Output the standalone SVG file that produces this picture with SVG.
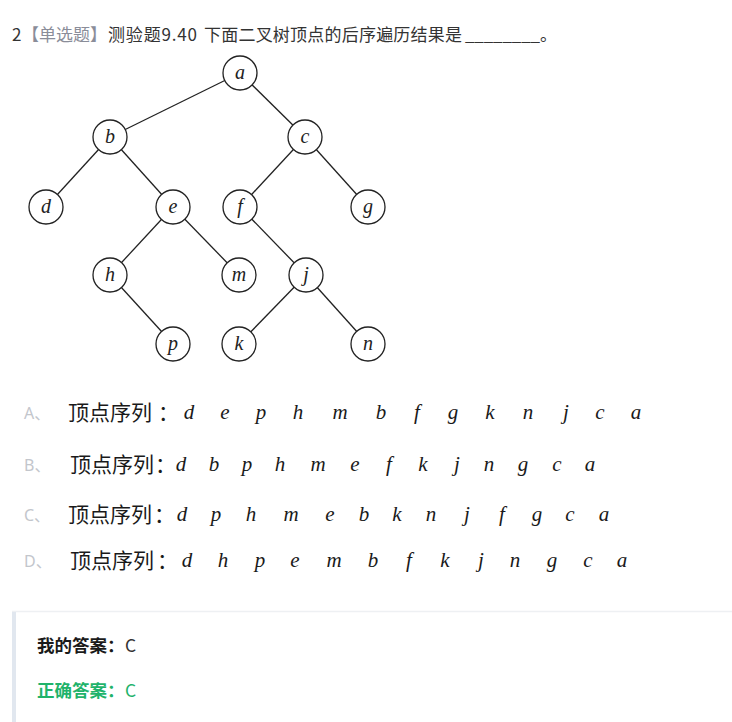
<svg xmlns="http://www.w3.org/2000/svg" width="732" height="722" viewBox="0 0 732 722">
<style>
.t{font-family:"Noto Sans CJK SC","Noto Sans",sans-serif;fill:#333;}
.grey{fill:#8a8d99;}
.lbl{font-family:"Noto Sans","Noto Sans CJK SC",sans-serif;font-size:16px;fill:#c3c6cc;}
.cn{font-family:"Noto Sans CJK SC",sans-serif;font-size:21px;fill:#1a1a1a;}
.m{font-family:"Liberation Serif","Times New Roman",serif;font-style:italic;font-size:21px;fill:#1a1a1a;text-anchor:middle;}
.node circle{fill:#fff;stroke:#222;stroke-width:1.3;}
.node text{font-family:"Liberation Serif","Times New Roman",serif;font-style:italic;font-size:20px;fill:#222;text-anchor:middle;}
.edges line{stroke:#222;stroke-width:1.3;}
.ans{font-family:"Noto Sans CJK SC",sans-serif;font-size:17.5px;}
</style>
<rect width="732" height="722" fill="#fff"/>
<g id="title">
<text class="t" font-size="17" y="41"><tspan x="12">2</tspan><tspan x="22" class="grey" textLength="85">【单选题】</tspan><tspan x="108" textLength="89">测验题9.40</tspan><tspan x="204" textLength="258">下面二叉树顶点的后序遍历结果是</tspan><tspan x="465" textLength="75">________</tspan><tspan x="540">。</tspan></text>
</g>
<g class="edges">
<line x1="240" y1="73" x2="110" y2="137"/>
<line x1="240" y1="73" x2="305" y2="137"/>
<line x1="110" y1="137" x2="46" y2="207"/>
<line x1="110" y1="137" x2="173" y2="207"/>
<line x1="305" y1="137" x2="240" y2="207"/>
<line x1="305" y1="137" x2="368" y2="207"/>
<line x1="173" y1="207" x2="110" y2="275"/>
<line x1="173" y1="207" x2="239" y2="275"/>
<line x1="240" y1="207" x2="306" y2="275"/>
<line x1="110" y1="275" x2="173" y2="344"/>
<line x1="306" y1="275" x2="239" y2="344"/>
<line x1="306" y1="275" x2="368" y2="344"/>
</g>
<g id="node-a" class="node"><circle cx="240" cy="73" r="17"/><text x="240" y="79">a</text></g>
<g id="node-b" class="node"><circle cx="110" cy="137" r="17"/><text x="110" y="143">b</text></g>
<g id="node-c" class="node"><circle cx="305" cy="137" r="17"/><text x="305" y="143">c</text></g>
<g id="node-d" class="node"><circle cx="46" cy="207" r="17"/><text x="46" y="213">d</text></g>
<g id="node-e" class="node"><circle cx="173" cy="207" r="17"/><text x="173" y="213">e</text></g>
<g id="node-f" class="node"><circle cx="240" cy="207" r="17"/><text x="240" y="213">f</text></g>
<g id="node-g" class="node"><circle cx="368" cy="207" r="17"/><text x="368" y="213">g</text></g>
<g id="node-h" class="node"><circle cx="110" cy="275" r="17"/><text x="110" y="281">h</text></g>
<g id="node-m" class="node"><circle cx="239" cy="275" r="17"/><text x="239" y="281">m</text></g>
<g id="node-j" class="node"><circle cx="306" cy="275" r="17"/><text x="306" y="281">j</text></g>
<g id="node-p" class="node"><circle cx="173" cy="344" r="17"/><text x="173" y="350">p</text></g>
<g id="node-k" class="node"><circle cx="239" cy="344" r="17"/><text x="239" y="350">k</text></g>
<g id="node-n" class="node"><circle cx="368" cy="344" r="17"/><text x="368" y="350">n</text></g>
<g id="optA">
<text class="lbl" x="24" y="419">A、</text>
<text class="cn" y="420"><tspan x="68">顶点序列</tspan><tspan x="158">：</tspan></text>
<text class="m" y="419"><tspan x="189">d</tspan><tspan x="225">e</tspan><tspan x="261">p</tspan><tspan x="298">h</tspan><tspan x="340">m</tspan><tspan x="381">b</tspan><tspan x="417">f</tspan><tspan x="453">g</tspan><tspan x="490">k</tspan><tspan x="528">n</tspan><tspan x="566">j</tspan><tspan x="600">c</tspan><tspan x="636">a</tspan></text>
</g>
<g id="optB">
<text class="lbl" x="24" y="471">B、</text>
<text class="cn" y="472"><tspan x="70">顶点序列</tspan><tspan x="155">：</tspan></text>
<text class="m" y="471"><tspan x="181">d</tspan><tspan x="214">b</tspan><tspan x="247">p</tspan><tspan x="280">h</tspan><tspan x="318">m</tspan><tspan x="355">e</tspan><tspan x="389">f</tspan><tspan x="423">k</tspan><tspan x="457">j</tspan><tspan x="489">n</tspan><tspan x="523">g</tspan><tspan x="557">c</tspan><tspan x="590">a</tspan></text>
</g>
<g id="optC">
<text class="lbl" x="24" y="521">C、</text>
<text class="cn" y="522"><tspan x="68">顶点序列</tspan><tspan x="154">：</tspan></text>
<text class="m" y="521"><tspan x="182">d</tspan><tspan x="216">p</tspan><tspan x="251">h</tspan><tspan x="291">m</tspan><tspan x="330">e</tspan><tspan x="364">b</tspan><tspan x="397">k</tspan><tspan x="431">n</tspan><tspan x="467">j</tspan><tspan x="502">f</tspan><tspan x="537">g</tspan><tspan x="570">c</tspan><tspan x="604">a</tspan></text>
</g>
<g id="optD">
<text class="lbl" x="24" y="567">D、</text>
<text class="cn" y="568"><tspan x="70">顶点序列</tspan><tspan x="157">：</tspan></text>
<text class="m" y="567"><tspan x="187">d</tspan><tspan x="223">h</tspan><tspan x="260">p</tspan><tspan x="295">e</tspan><tspan x="334">m</tspan><tspan x="373">b</tspan><tspan x="409">f</tspan><tspan x="445">k</tspan><tspan x="481">j</tspan><tspan x="515">n</tspan><tspan x="552">g</tspan><tspan x="588">c</tspan><tspan x="622">a</tspan></text>
</g>
<g id="answer-panel">
<rect x="12" y="611" width="720" height="111" fill="#fff"/>
<line x1="12" y1="611.5" x2="732" y2="611.5" stroke="#eef0f3" stroke-width="1.5"/>
<rect x="12" y="612" width="4" height="110" fill="#e1e7ef"/>
<text class="ans" x="37" y="652"><tspan font-weight="bold" fill="#1a1a1a">我的答案：</tspan><tspan x="125" fill="#333">C</tspan></text>
<text class="ans" x="37" y="697" fill="#1fb36b"><tspan font-weight="bold">正确答案：</tspan><tspan x="125">C</tspan></text>
</g>
</svg>
